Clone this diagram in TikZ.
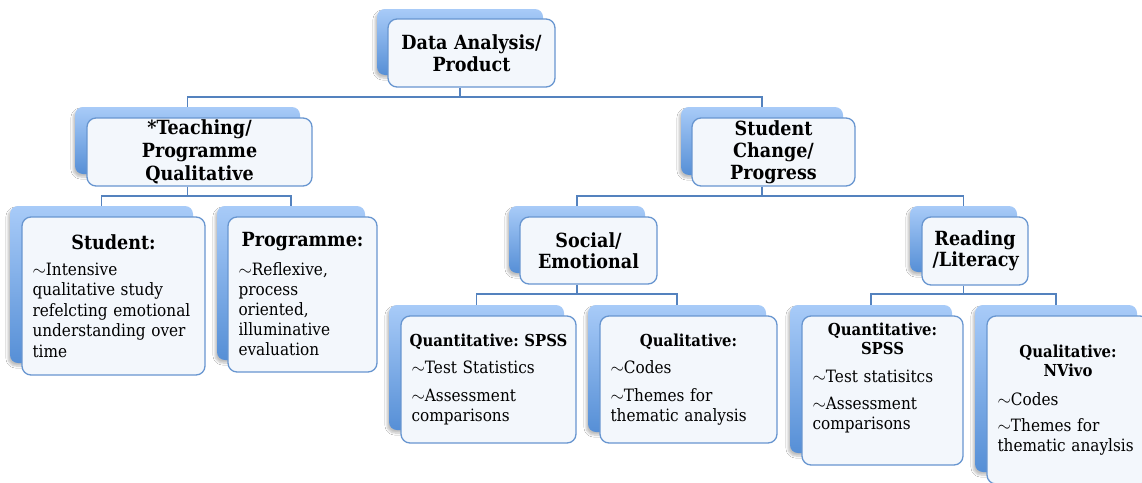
\documentclass[tikz,border=0pt]{standalone}
\usepackage{fontspec}
\setmainfont{DejaVu Serif}[FakeStretch=0.9]
\usetikzlibrary{shadows.blur}
\definecolor{backtop}{RGB}{168,203,248}
\definecolor{backbot}{RGB}{86,143,214}
\definecolor{frontfill}{RGB}{243,247,252}
\definecolor{frontline}{RGB}{104,150,208}
\definecolor{connline}{RGB}{84,130,190}
\tikzset{
  backbox/.style={rectangle, rounded corners=8pt, top color=backtop, bottom color=backbot, draw=none, inner sep=0pt,
    blur shadow={shadow xshift=-2pt, shadow yshift=-3pt, shadow opacity=25, shadow blur steps=6}},
  frontbox/.style={rectangle, rounded corners=9pt, fill=frontfill, draw=frontline, line width=1.3pt,
    inner xsep=10.5pt, inner ysep=0pt, text=black},
  headbox/.style={frontbox, font=\fontsize{19.5}{21.5}\selectfont\bfseries, align=center},
  bodybox/.style={frontbox, font=\fontsize{17}{20}\selectfont, align=left},
  conn/.style={draw=connline, line width=1.3pt},
}
\newcommand\mkback[5]{\node[backbox, minimum width={#4-#2}, minimum height={#5-#3}] (#1) at ({(#2+#4)/2},{(#3+#5)/2}) {};}
\newcommand\mkfront[7]{\node[#6, minimum width={#4-#2}, minimum height={#5-#3}, text width={#4-#2-21}] (#1) at ({(#2+#4)/2},{(#3+#5)/2}) {#7};}
\newcommand\bigttl[1]{{\centering\fontsize{19.5}{22}\selectfont\bfseries #1\par}}
\newcommand\smlttl[1]{{\centering\fontsize{16.5}{19}\selectfont\bfseries #1\par}}
\newcommand\smlttlone[1]{{\fontsize{16.5}{19}\selectfont\bfseries\noindent\makebox[\linewidth][c]{#1}\par}}
\newcommand\tl{$\sim$}
\frenchspacing
\begin{document}
\begin{tikzpicture}[x=1pt,y=-1pt]
\clip (0,0) rectangle (1142,482);
\fill[white] (0,0) rectangle (1142,482);
% level 0
\mkback{bDA}{377}{9}{543}{75}
\mkfront{fDA}{388}{19}{555}{87}{headbox}{Data Analysis/\\Product}
% level 1
\mkback{bTeach}{75}{107}{300}{174}
\mkfront{fTeach}{87}{118}{312}{186}{headbox, font=\fontsize{19.5}{23}\selectfont\bfseries}{*Teaching/\\Programme\\Qualitative}
\mkback{bSC}{681}{107}{843}{175}
\mkfront{fSC}{692}{118}{855}{186}{headbox, font=\fontsize{19.5}{22}\selectfont\bfseries}{Student\\Change/\\Progress}
% level 2
\mkback{bStudent}{10}{206}{193}{363}
\mkfront{fStudent}{22}{217}{205}{375}{bodybox, font=\fontsize{17}{20.5}\selectfont}{\bigttl{Student:}\vspace{5pt}\tl Intensive\\qualitative study\\refelcting emotional\\understanding over\\time}
\mkback{bProg}{217}{206}{365}{360}
\mkfront{fProg}{228}{217}{377}{372}{bodybox, font=\fontsize{17}{20}\selectfont}{\bigttl{Programme:}\vspace{9pt}\tl Reflexive,\\process\\oriented,\\illuminative\\evaluation}
\mkback{bSocial}{509}{206}{645}{273}
\mkfront{fSocial}{520}{217}{657}{284}{headbox}{Social/\\Emotional}
\mkback{bReading}{910}{206}{1017}{272}
\mkfront{fReading}{922}{217}{1028}{285}{headbox}{Reading\\/Literacy}
% level 3
\mkback{bQS1}{389}{305}{564}{430}
\mkfront{fQS1}{401}{316}{576}{443}{bodybox, font=\fontsize{17}{19.5}\selectfont}{\smlttlone{Quantitative: SPSS}\vspace{7pt}\tl Test Statistics\\[9pt]\tl Assessment\\comparisons}
\mkback{bQ1}{588}{305}{766}{432}
\mkfront{fQ1}{600}{316}{777}{443}{bodybox, font=\fontsize{17}{19.5}\selectfont}{\smlttlone{Qualitative:}\vspace{7pt}\tl Codes\\[9pt]\tl Themes for\\thematic analysis}
\mkback{bQS2}{790}{305}{952}{453}
\mkfront{fQS2}{802}{316}{963}{465}{bodybox, font=\fontsize{17}{20}\selectfont}{\smlttl{Quantitative:\\SPSS}\vspace{8pt}\tl Test statisitcs\\[7pt]\tl Assessment\\comparisons\par\vspace{26pt}}
\mkback{bNV}{975}{305}{1137}{472}
\mkfront{fNV}{987}{316}{1149}{484}{bodybox, font=\fontsize{17}{20.5}\selectfont}{\smlttl{Qualitative:\\NVivo}\vspace{9pt}\tl Codes\\[5pt]\tl Themes for\\thematic anaylsis}
% connectors
\coordinate (j0) at (460,97);
\coordinate (j1) at (187.5,196);
\coordinate (j2) at (762,196);
\coordinate (j3) at (577,294);
\coordinate (j4) at (963.5,294);
\draw[conn] (fDA.south -| bDA.center) -- (j0);
\draw[conn] (bTeach.north) |- (j0) -| (bSC.north);
\draw[conn] (fTeach.south -| bTeach.center) -- (j1);
\draw[conn] (bStudent.north) |- (j1) -| (bProg.north);
\draw[conn] (fSC.south -| bSC.center) -- (j2);
\draw[conn] (bSocial.north) |- (j2) -| (bReading.north);
\draw[conn] (fSocial.south -| bSocial.center) -- (j3);
\draw[conn] (bQS1.north) |- (j3) -| (bQ1.north);
\draw[conn] (fReading.south -| bReading.center) -- (j4);
\draw[conn] (bQS2.north) |- (j4) -| (bNV.north);
\end{tikzpicture}
\end{document}
